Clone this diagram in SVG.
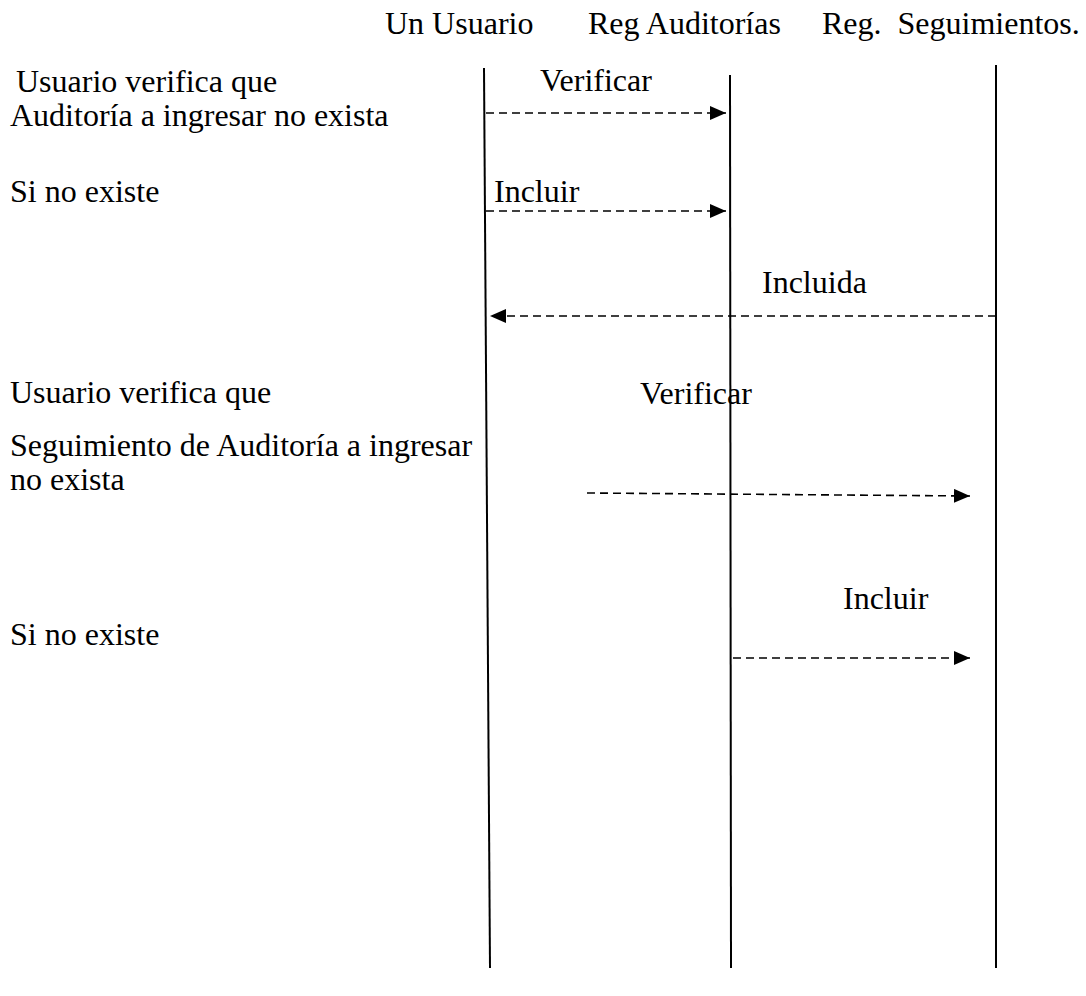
<svg xmlns="http://www.w3.org/2000/svg" width="1086" height="996" viewBox="0 0 1086 996">
  <defs>
    <style>
      text { font-family: "Liberation Serif", "Times New Roman", serif; font-size: 32px; fill: #000; }
      .life { stroke: #000; stroke-width: 2; fill: none; }
      .msg { stroke: #000; stroke-width: 1.6; stroke-dasharray: 8 5; fill: none; }
    </style>
    <marker id="arrow" viewBox="0 0 16 14" refX="16" refY="7" markerWidth="16" markerHeight="14" markerUnits="userSpaceOnUse" orient="auto">
      <path d="M0,0 L16,7 L0,14 Z" fill="#000"/>
    </marker>
  </defs>
  <rect width="1086" height="996" fill="#fff"/>

  <!-- participants with lifelines -->
  <g id="usuario">
    <text x="385" y="34">Un Usuario</text>
    <line class="life" x1="484" y1="68" x2="490" y2="968"/>
  </g>
  <g id="reg-auditorias">
    <text x="588" y="34">Reg Auditorías</text>
    <line class="life" x1="730" y1="75" x2="731" y2="968"/>
  </g>
  <g id="reg-seguimientos">
    <text x="822" y="34" xml:space="preserve">Reg.  Seguimientos.</text>
    <line class="life" x1="996" y1="65" x2="996" y2="968"/>
  </g>

  <!-- side notes -->
  <g id="notes">
    <text x="16" y="92">Usuario verifica que</text>
    <text x="10" y="126">Auditoría a ingresar no exista</text>
    <text x="10" y="202">Si no existe</text>
    <text x="10" y="403">Usuario verifica que</text>
    <text x="10" y="456">Seguimiento de Auditoría a ingresar</text>
    <text x="10" y="490">no exista</text>
    <text x="10" y="645">Si no existe</text>
  </g>

  <!-- messages -->
  <g id="connectors">
    <line class="msg" x1="486" y1="113" x2="726" y2="113" marker-end="url(#arrow)"/>
    <text x="540" y="91">Verificar</text>
    <line class="msg" x1="486" y1="211" x2="726" y2="211" marker-end="url(#arrow)"/>
    <text x="494" y="202">Incluir</text>
    <line class="msg" x1="996" y1="316" x2="490" y2="316" marker-end="url(#arrow)"/>
    <text x="762" y="293">Incluida</text>
    <line class="msg" x1="587" y1="493" x2="970" y2="496" marker-end="url(#arrow)"/>
    <text x="640" y="404">Verificar</text>
    <line class="msg" x1="733" y1="658" x2="970" y2="658" marker-end="url(#arrow)"/>
    <text x="843" y="609">Incluir</text>
  </g>
</svg>
